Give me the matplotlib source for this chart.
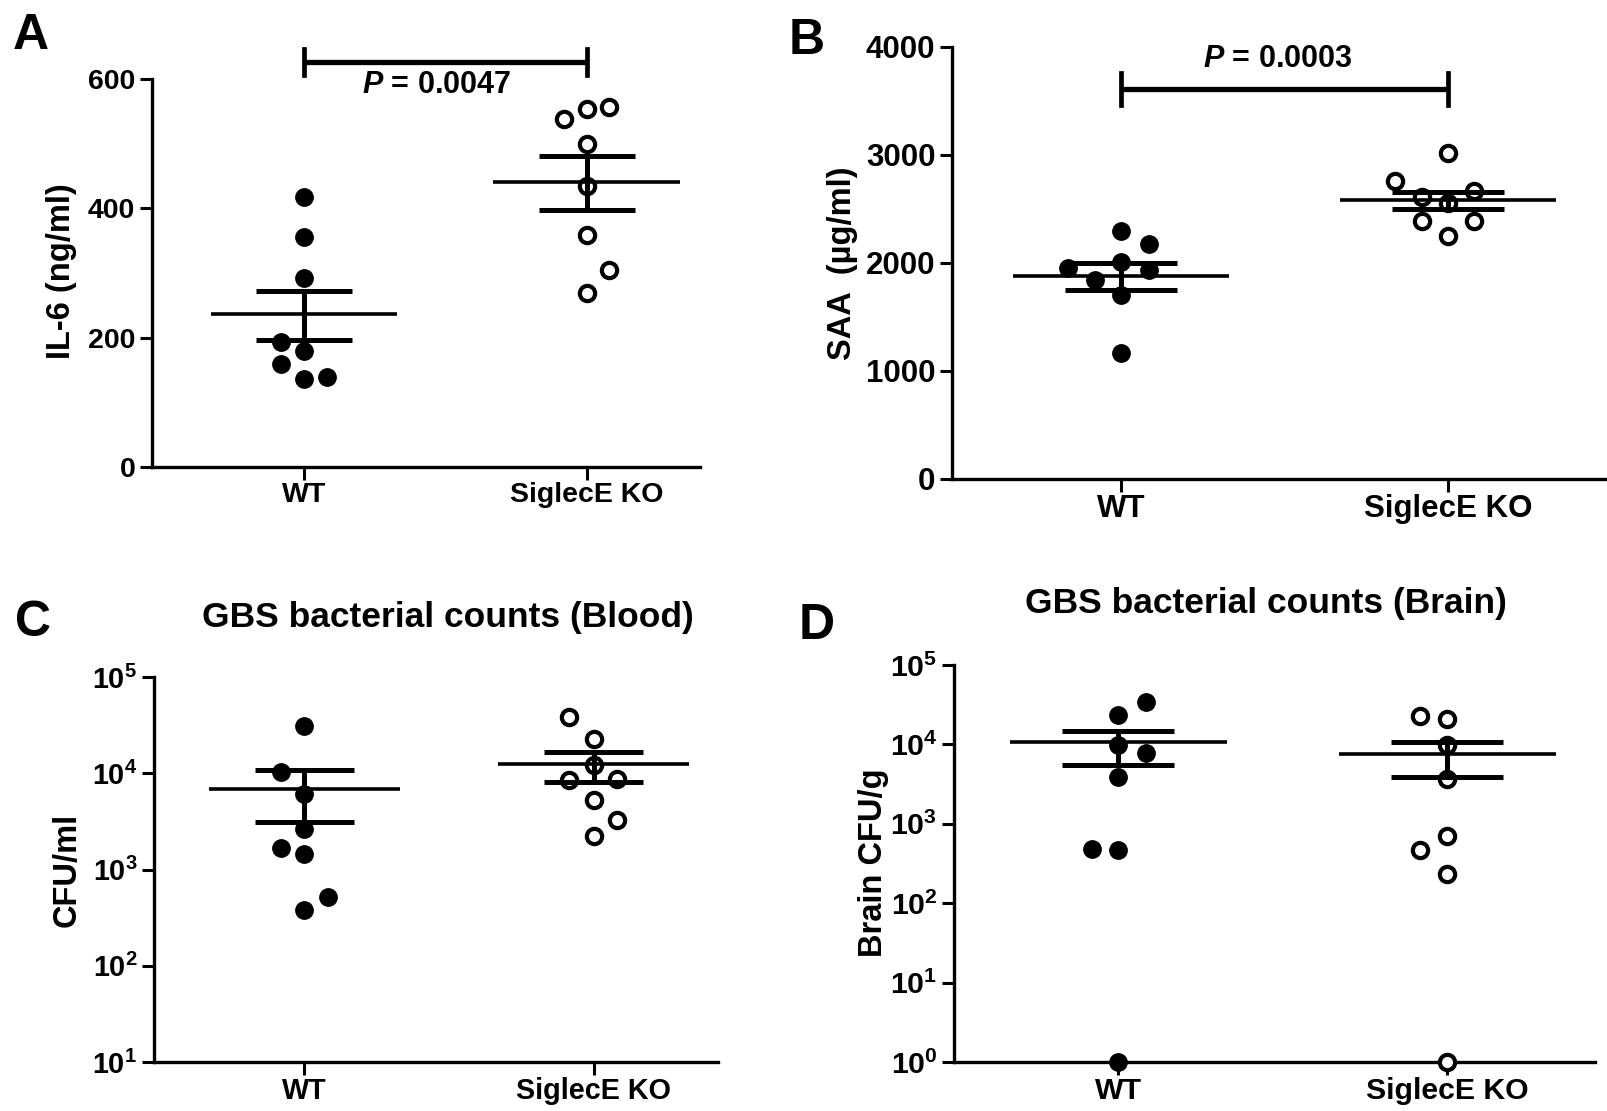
import matplotlib

matplotlib.use("Agg")
import matplotlib.pyplot as plt

plt.rcParams["font.family"] = ["Liberation Sans", "DejaVu Sans"]
plt.rcParams["font.weight"] = "bold"
plt.rcParams["mathtext.fontset"] = "custom"
plt.rcParams["mathtext.rm"] = "Liberation Sans:bold"
plt.rcParams["mathtext.bf"] = "Liberation Sans:bold"
plt.rcParams["mathtext.it"] = "Liberation Sans:italic:bold"

groups = ["WT", "SiglecE KO"]

# --- A: IL-6 (ng/ml)
il6_wt = [418, 355, 293, 193, 179, 160, 136, 139]
il6_wt_jit = [0, 0, 0, -0.08, 0, -0.08, 0, 0.08]
il6_ko = [538, 553, 556, 499, 435, 358, 305, 269]
il6_ko_jit = [-0.08, 0, 0.08, 0, 0, 0, 0.08, 0]
il6_mean = [237, 441]
il6_lo = [197, 398]
il6_hi = [272, 481]

# --- B: SAA (ug/ml)
saa_wt = [2300, 2178, 2013, 1950, 1847, 1934, 1706, 1167]
saa_wt_jit = [0, 0.085, 0, -0.163, -0.081, 0.085, 0, 0]
saa_ko = [3014, 2757, 2670, 2607, 2560, 2388, 2388, 2247]
saa_ko_jit = [0, -0.163, 0.08, -0.08, 0, -0.08, 0.08, 0]
saa_mean = [1878, 2582]
saa_lo = [1753, 2498]
saa_hi = [2003, 2654]

# --- C: blood CFU/ml
blood_wt = [31000, 10400, 6050, 2620, 1680, 1460, 512, 380]
blood_wt_jit = [0, -0.08, 0, 0, -0.08, 0, 0.08, 0]
blood_ko = [38800, 22500, 12300, 8450, 8670, 5330, 3230, 2210]
blood_ko_jit = [-0.084, 0, 0, -0.084, 0.082, 0, 0.082, 0]
blood_mean = [6860, 12530]
blood_lo = [3100, 8100]
blood_hi = [10700, 16800]

# --- D: brain CFU/g
brain_wt = [34400, 23700, 9800, 7760, 3890, 477, 462, 1]
brain_wt_jit = [0.083, 0, 0, 0.083, 0, -0.079, 0, 0]
brain_ko = [23000, 20700, 9800, 3630, 693, 462, 230, 1]
brain_ko_jit = [-0.083, 0, 0, 0, 0, -0.083, 0, 0]
brain_mean = [10740, 7530]
brain_lo = [5450, 3940]
brain_hi = [14550, 10800]

W, H = 1608, 1111
LABEL_FS = 23.5


def rect(x0, x1, ytop, ybot):
    return [x0 / W, 1 - ybot / H, (x1 - x0) / W, (ybot - ytop) / H]


def draw(ax, wt, wt_jit, ko, ko_jit, mean, lo, hi, xlim, ylim, fs,
         log=False):
    ax.plot(wt_jit, wt, "o", color="black", ms=12.5, clip_on=False, zorder=3)
    ax.plot([1 + j for j in ko_jit], ko, "o", mfc="white", mec="black",
            mew=3, ms=11, clip_on=False, zorder=3)
    for i in range(2):
        ax.plot([i - 0.33, i + 0.33], [mean[i]] * 2, color="black", lw=2.6,
                zorder=4, solid_capstyle="butt")
        ax.plot([i - 0.17, i + 0.17], [lo[i]] * 2, color="black", lw=3.6,
                zorder=4, solid_capstyle="butt")
        ax.plot([i - 0.17, i + 0.17], [hi[i]] * 2, color="black", lw=3.6,
                zorder=4, solid_capstyle="butt")
        ax.plot([i, i], [lo[i], hi[i]], color="black", lw=3.6, zorder=4)
    if log:
        ax.set_yscale("log")
        ax.minorticks_off()
    ax.set_xlim(*xlim)
    ax.set_ylim(*ylim)
    ax.set_xticks([0, 1])
    ax.set_xticklabels(groups)
    for s in ["top", "right"]:
        ax.spines[s].set_visible(False)
    for s in ["left", "bottom"]:
        ax.spines[s].set_linewidth(2.4)
    ax.tick_params(axis="both", direction="out", length=9, width=2.2,
                   labelsize=fs)
    ax.tick_params(axis="y", pad=3)
    ax.tick_params(axis="x", pad=2)
    for lab in ax.get_xticklabels() + ax.get_yticklabels():
        lab.set_fontweight("bold")


def bracket(ax, y, cap, text_x, text_y, text):
    ax.plot([0, 1], [y, y], color="black", lw=3.8, clip_on=False,
            solid_capstyle="butt")
    for x in (0, 1):
        ax.plot([x, x], [y - cap, y + cap], color="black", lw=3.4,
                clip_on=False)
    ax.text(text_x, text_y, text, ha="center", va="center", fontsize=22,
            fontweight="bold", clip_on=False)


fig = plt.figure(figsize=(W / 100, H / 100), dpi=100)

axA = fig.add_axes(rect(152, 700, 79, 467))
draw(axA, il6_wt, il6_wt_jit, il6_ko, il6_ko_jit, il6_mean, il6_lo, il6_hi,
     (-0.537, 1.40), (0, 600), 20.5)
axA.set_yticks([0, 200, 400, 600])
bracket(axA, 626, 20, 0.468, 590, r"$\mathit{P}$ = 0.0047")

axB = fig.add_axes(rect(952, 1605, 47, 479))
draw(axB, saa_wt, saa_wt_jit, saa_ko, saa_ko_jit, saa_mean, saa_lo, saa_hi,
     (-0.517, 1.48), (0, 4000), 22.5)
axB.set_yticks([0, 1000, 2000, 3000, 4000])
bracket(axB, 3609, 150, 0.48, 3890, r"$\mathit{P}$ = 0.0003")

axC = fig.add_axes(rect(154, 718, 677, 1062))
draw(axC, blood_wt, blood_wt_jit, blood_ko, blood_ko_jit, blood_mean,
     blood_lo, blood_hi, (-0.52, 1.43), (10, 1e5), 20.7, log=True)
axC.set_yticks([10, 100, 1000, 1e4, 1e5])
axC.set_yticklabels([r"$\mathbf{10^{%d}}$" % k for k in range(1, 6)])

axD = fig.add_axes(rect(954, 1595, 665, 1062))
draw(axD, brain_wt, brain_wt_jit, brain_ko, brain_ko_jit, brain_mean,
     brain_lo, brain_hi, (-0.5, 1.45), (1, 1e5), 21.8, log=True)
axD.set_yticks([1, 10, 100, 1000, 1e4, 1e5])
axD.set_yticklabels([r"$\mathbf{10^{%d}}$" % k for k in range(0, 6)])

# y labels
fig.text(62 / W, 1 - 271 / H, "IL-6 (ng/ml)", rotation=90, ha="center",
         va="center", fontsize=LABEL_FS, fontweight="bold")
fig.text(843 / W, 1 - 263 / H, "SAA  (\u00b5g/ml)", rotation=90, ha="center",
         va="center", fontsize=LABEL_FS, fontweight="bold")
fig.text(67 / W, 1 - 870 / H, "CFU/ml", rotation=90, ha="center",
         va="center", fontsize=LABEL_FS, fontweight="bold")
fig.text(874 / W, 1 - 863 / H, "Brain CFU/g", rotation=90, ha="center",
         va="center", fontsize=LABEL_FS, fontweight="bold")

# titles
fig.text(448 / W, 1 - 618 / H, "GBS bacterial counts (Blood)", ha="center",
         va="center", fontsize=25.5, fontweight="bold")
fig.text(1266 / W, 1 - 603 / H, "GBS bacterial counts (Brain)", ha="center",
         va="center", fontsize=25.5, fontweight="bold")

# panel letters
for letter, (px, py) in zip("ABCD", [(31, 36), (807, 41), (33, 623), (817, 626)]):
    fig.text(px / W, 1 - py / H, letter, ha="center", va="center",
             fontsize=36, fontweight="bold")

fig.savefig("out.png", dpi=100)
